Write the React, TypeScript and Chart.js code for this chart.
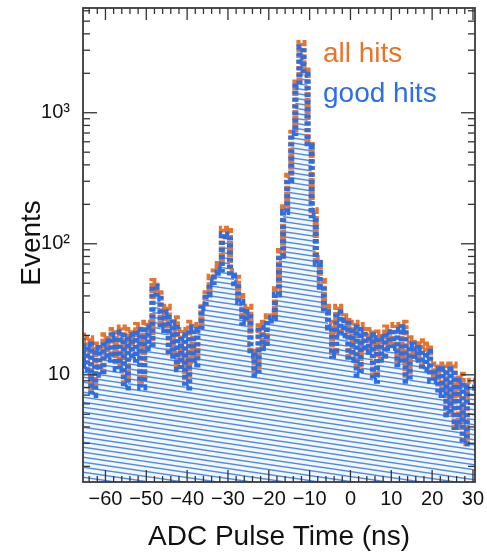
import React, { useEffect, useRef } from "react";
import { Chart, registerables } from "chart.js";

Chart.register(...registerables);

// ---- data ----
const binCenters = [
  -65, -64, -63, -62, -61, -60, -59, -58, -57, -56,
  -55, -54, -53, -52, -51, -50, -49, -48, -47, -46,
  -45, -44, -43, -42, -41, -40, -39, -38, -37, -36,
  -35, -34, -33, -32, -31, -30, -29, -28, -27, -26,
  -25, -24, -23, -22, -21, -20, -19, -18, -17, -16,
  -15, -14, -13, -12, -11, -10, -9, -8, -7, -6,
  -5, -4, -3, -2, -1, 0, 1, 2, 3, 4,
  5, 6, 7, 8, 9, 10, 11, 12, 13, 14,
  15, 16, 17, 18, 19, 20, 21, 22, 23, 24,
  25, 26, 27, 28, 29, 30,
];

const allHits = [
  21, 12, 19, 8, 17, 11, 20, 14, 22, 12,
  23, 9, 22, 14, 24, 9, 25, 17, 52, 42,
  24, 33, 15, 27, 12, 22, 9, 25, 13, 24,
  35, 45, 56, 66, 70, 130, 125, 62, 55, 40,
  27, 33, 15, 11, 25, 17, 28, 30, 45, 88,
  190, 330, 750, 1700, 3400, 2100, 600, 180, 78, 52,
  33, 25, 15, 33, 22, 28, 14, 25, 11, 24,
  16, 22, 10, 21, 14, 23, 17, 24, 13, 25,
  10, 19, 14, 18, 12, 17, 10, 12, 8, 12,
  5, 12, 4, 10, 3, 9,
];

const goodHits = [
  19, 11, 17, 7, 16, 10, 18, 13, 20, 11,
  21, 8, 20, 13, 22, 8, 23, 16, 47, 38,
  22, 30, 14, 25, 11, 20, 8, 23, 12, 22,
  32, 41, 51, 60, 64, 118, 114, 57, 50, 36,
  25, 30, 14, 10, 23, 16, 26, 27, 41, 81,
  175, 305, 700, 1580, 3150, 1950, 555, 165, 71, 47,
  30, 23, 14, 30, 20, 26, 13, 23, 10, 22,
  15, 20, 9, 19, 13, 21, 16, 22, 12, 23,
  9, 17, 13, 16, 11, 15, 9, 11, 7, 11,
  5, 11, 4, 9, 3, 8,
];

const xTickValues = [-60, -50, -40, -30, -20, -10, 0, 10, 20, 30];
const xTickLabels = ["\u221260", "\u221250", "\u221240", "\u221230", "\u221220", "\u221210", "0", "10", "20", "30"];
const yTickValues = [10, 100, 1000];
const yTickLabels = ["10", "10\u00B2", "10\u00B3"];

const seriesNames = ["all hits", "good hits"];
const xTitle = "ADC Pulse Time (ns)";
const yTitle = "Events";

const X_MIN = -65.5;
const X_MAX = 30.5;
const Y_MIN = 1.52;
const Y_MAX = 6300;

const ORANGE = "#e8742c";
const BLUE = "#2b6ee6";
const FONT = "'Liberation Sans', Arial, Helvetica, sans-serif";

function histPoints(values: number[]) {
  const pts = values.map((v, i) => ({ x: binCenters[i] - 0.5, y: v }));
  const last = values.length - 1;
  pts.push({ x: binCenters[last] + 0.5, y: values[last] });
  return pts;
}

function makeHatch(): CanvasPattern | string {
  const W = 34;
  const H = 5;
  const c = document.createElement("canvas");
  c.width = W;
  c.height = H;
  const g = c.getContext("2d");
  if (!g) return "#9fbfee";
  g.fillStyle = "#f4f8fe";
  g.fillRect(0, 0, W, H);
  g.strokeStyle = "#4f8ce8";
  g.lineWidth = 1.4;
  for (const off of [-H, 0, H]) {
    g.beginPath();
    g.moveTo(0, off);
    g.lineTo(W, off + H);
    g.stroke();
  }
  const p = g.createPattern(c, "repeat");
  return p || "#9fbfee";
}

const decorPlugin = {
  id: "decor",
  afterDraw(chart: any) {
    const { ctx, chartArea: a, scales } = chart;
    const xs = scales.x;
    const ys = scales.y;
    ctx.save();
    ctx.strokeStyle = "#333";
    ctx.lineWidth = 1.3;
    const seg = (x1: number, y1: number, x2: number, y2: number) => {
      ctx.beginPath();
      ctx.moveTo(x1, y1);
      ctx.lineTo(x2, y2);
      ctx.stroke();
    };
    for (let v = -64; v <= 30; v += 2) {
      const major = xTickValues.includes(v);
      const len = major ? 12 : 6;
      const px = xs.getPixelForValue(v);
      seg(px, a.bottom, px, a.bottom - len);
      seg(px, a.top, px, a.top + len);
    }
    for (const d of [1, 10, 100, 1000]) {
      for (let m = 1; m <= 9; m++) {
        const v = d * m;
        if (v < Y_MIN || v > Y_MAX) continue;
        const major = m === 1;
        const len = major ? 14 : 7;
        const py = ys.getPixelForValue(v);
        seg(a.left, py, a.left + len, py);
        seg(a.right, py, a.right - len, py);
      }
    }
    ctx.strokeStyle = "#3a3a3a";
    ctx.lineWidth = 1.8;
    ctx.strokeRect(a.left, a.top, a.right - a.left, a.bottom - a.top);

    ctx.fillStyle = "#111";
    ctx.font = `28px ${FONT}`;
    ctx.textAlign = "center";
    ctx.textBaseline = "alphabetic";
    ctx.fillText(xTitle, (a.left + a.right) / 2, 545);
    ctx.save();
    ctx.translate(40, 243);
    ctx.rotate(-Math.PI / 2);
    ctx.fillText(yTitle, 0, 0);
    ctx.restore();

    ctx.textAlign = "left";
    ctx.fillStyle = ORANGE;
    ctx.fillText(seriesNames[0], 323, 62);
    ctx.fillStyle = BLUE;
    ctx.fillText(seriesNames[1], 323, 102);
    ctx.restore();
  },
};

export default function App() {
  const ref = useRef<HTMLCanvasElement | null>(null);

  useEffect(() => {
    const canvas = ref.current;
    if (!canvas) return;
    const hatch = makeHatch();
    const chart = new Chart(canvas, {
      type: "line",
      data: {
        datasets: [
          {
            label: seriesNames[1],
            data: histPoints(goodHits),
            stepped: "after",
            borderColor: BLUE,
            borderWidth: 6,
            borderDash: [4, 3],
            borderDashOffset: 2,
            backgroundColor: hatch as any,
            fill: "start",
            pointRadius: 0,
            order: 0,
          },
          {
            label: seriesNames[0],
            data: histPoints(allHits),
            stepped: "after",
            borderColor: ORANGE,
            borderWidth: 6,
            borderDash: [4, 2],
            fill: false,
            pointRadius: 0,
            order: 1,
          },
        ],
      },
      options: {
        responsive: false,
        animation: false,
        layout: { padding: { top: 8, right: 12, left: 0, bottom: 0 } },
        plugins: {
          legend: { display: false },
          tooltip: { enabled: false },
          filler: { drawTime: "beforeDatasetsDraw" },
        } as any,
        scales: {
          x: {
            type: "linear",
            min: X_MIN,
            max: X_MAX,
            grid: { display: false, drawTicks: false },
            border: { display: false },
            afterBuildTicks: (s: any) => {
              s.ticks = xTickValues.map((v) => ({ value: v }));
            },
            afterFit: (s: any) => {
              s.height = 71;
              s.paddingLeft = 0;
              s.paddingRight = 0;
            },
            ticks: {
              autoSkip: false,
              maxRotation: 0,
              padding: 5,
              color: "#111",
              font: { family: FONT, size: 20 },
              callback: (v: any) => {
                const i = xTickValues.indexOf(Number(v));
                return i >= 0 ? xTickLabels[i] : "";
              },
            },
          },
          y: {
            type: "logarithmic",
            min: Y_MIN,
            max: Y_MAX,
            grid: { display: false, drawTicks: false },
            border: { display: false },
            afterBuildTicks: (s: any) => {
              s.ticks = yTickValues.map((v) => ({ value: v }));
            },
            afterFit: (s: any) => {
              s.width = 83;
              s.paddingTop = 0;
              s.paddingBottom = 0;
            },
            ticks: {
              autoSkip: false,
              padding: 13,
              color: "#111",
              font: { family: FONT, size: 20 },
              callback: (v: any) => {
                const i = yTickValues.indexOf(Number(v));
                return i >= 0 ? yTickLabels[i] : "";
              },
            },
          },
        },
      },
      plugins: [decorPlugin],
    });
    return () => chart.destroy();
  }, []);

  return (
    <div style={{ position: "fixed", left: 0, top: 0, width: 487, height: 553, background: "#fff" }}>
      <canvas ref={ref} width={487} height={553} style={{ display: "block" }} />
    </div>
  );
}
